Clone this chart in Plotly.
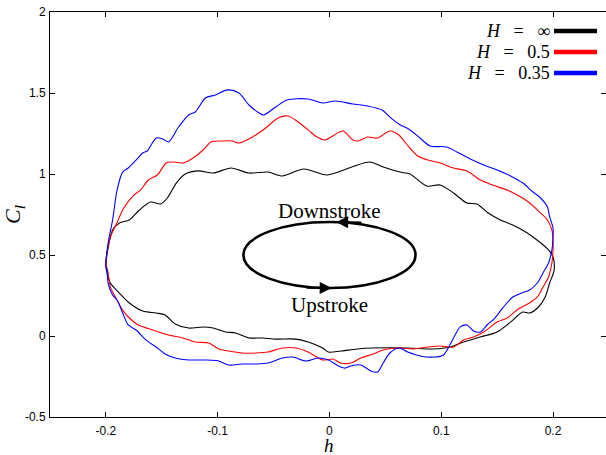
import plotly.graph_objects as go

# ---- data (h, Cl) ----
h_inf = [-0.200, -0.194, -0.188, -0.179, -0.170, -0.160, -0.151, -0.145, -0.137, -0.129, -0.117, -0.104,
         -0.088, -0.072, -0.055, -0.042, -0.023, -0.002, 0.020, 0.036, 0.048, 0.063, 0.072, 0.087, 0.099,
         0.111, 0.123, 0.132, 0.142, 0.153, 0.164, 0.177, 0.188, 0.196, 0.200, 0.201,
         0.197, 0.193, 0.187, 0.179, 0.173, 0.162, 0.150, 0.135, 0.120, 0.108, 0.093, 0.070, 0.039, 0.025,
         0.010, -0.001, -0.006, -0.019, -0.030, -0.048, -0.060, -0.072, -0.084, -0.093, -0.104, -0.113,
         -0.126, -0.138, -0.147, -0.155, -0.167, -0.179, -0.188, -0.196, -0.199, -0.200]
cl_inf = [0.438, 0.654, 0.698, 0.716, 0.778, 0.827, 0.815, 0.852, 0.944, 1.000, 1.019, 1.006,
          1.037, 1.006, 1.012, 0.988, 1.031, 0.994, 1.043, 1.074, 1.043, 1.012, 1.000, 0.926, 0.932,
          0.883, 0.821, 0.815, 0.759, 0.716, 0.685, 0.636, 0.580, 0.531, 0.488, 0.407,
          0.327, 0.241, 0.179, 0.142, 0.148, 0.086, 0.025, -0.006, -0.037, -0.068, -0.080, -0.074, -0.074, -0.080,
          -0.093, -0.099, -0.074, -0.037, -0.019, -0.019, -0.012, -0.012, 0.019, 0.025, 0.049, 0.056,
          0.049, 0.074, 0.130, 0.142, 0.154, 0.204, 0.265, 0.327, 0.389, 0.438]

h_05 = [-0.200, -0.196, -0.191, -0.184, -0.175, -0.169, -0.162, -0.154, -0.146, -0.139, -0.131, -0.122,
        -0.113, -0.106, -0.096, -0.087, -0.081, -0.069, -0.057, -0.046, -0.037, -0.028, -0.019, -0.011,
        -0.004, 0.012, 0.021, 0.026, 0.034, 0.043, 0.054, 0.062, 0.071, 0.079, 0.088, 0.099, 0.111, 0.123,
        0.135, 0.146, 0.159, 0.168, 0.178, 0.188, 0.195, 0.199, 0.200, 0.200,
        0.199, 0.196, 0.191, 0.186, 0.179, 0.169, 0.159, 0.150, 0.138, 0.129, 0.120, 0.111, 0.099, 0.088,
        0.075, 0.063, 0.048, 0.039, 0.028, 0.019, 0.010, 0.003, -0.006, -0.019, -0.030, -0.042, -0.055,
        -0.066, -0.078, -0.090, -0.099, -0.108, -0.120, -0.131, -0.144, -0.158, -0.171, -0.179, -0.185,
        -0.191, -0.196, -0.198, -0.200]
cl_05 = [0.457, 0.611, 0.685, 0.790, 0.870, 0.901, 0.963, 0.994, 1.068, 1.074, 1.068, 1.099,
         1.148, 1.198, 1.204, 1.204, 1.191, 1.228, 1.284, 1.346, 1.358, 1.321, 1.272, 1.228,
         1.210, 1.265, 1.210, 1.204, 1.228, 1.222, 1.265, 1.241, 1.167, 1.111, 1.086, 1.068, 1.037, 1.019,
         0.963, 0.932, 0.901, 0.870, 0.827, 0.765, 0.716, 0.654, 0.593, 0.531,
         0.451, 0.364, 0.302, 0.241, 0.204, 0.167, 0.111, 0.086, 0.025, -0.006, -0.025, -0.068, -0.062, -0.068,
         -0.080, -0.074, -0.086, -0.111, -0.136, -0.167, -0.167, -0.142, -0.148, -0.099, -0.074, -0.074, -0.099,
         -0.105, -0.105, -0.093, -0.080, -0.043, -0.037, -0.012, 0.006, 0.037, 0.068, 0.111, 0.160,
         0.235, 0.302, 0.389, 0.457]

h_035 = [-0.200, -0.198, -0.194, -0.190, -0.185, -0.180, -0.173, -0.167, -0.163, -0.155, -0.149, -0.144,
         -0.135, -0.126, -0.120, -0.111, -0.102, -0.091, -0.081, -0.072, -0.063, -0.059, -0.048, -0.038,
         -0.019, -0.006, 0.005, 0.021, 0.034, 0.047, 0.054, 0.062, 0.072, 0.081, 0.090, 0.105, 0.114, 0.126,
         0.138, 0.150, 0.162, 0.173, 0.182, 0.188, 0.195, 0.197, 0.200, 0.200,
         0.199, 0.196, 0.191, 0.186, 0.179, 0.172, 0.164, 0.155, 0.148, 0.141, 0.135, 0.129, 0.123, 0.117,
         0.111, 0.102, 0.093, 0.081, 0.070, 0.062, 0.054, 0.048, 0.043, 0.037, 0.028, 0.019, 0.014, 0.008,
         -0.001, -0.010, -0.021, -0.033, -0.042, -0.055, -0.066, -0.078, -0.090, -0.099, -0.111, -0.126,
         -0.138, -0.147, -0.155, -0.164, -0.173, -0.180, -0.185, -0.190, -0.194, -0.198, -0.199, -0.200]
cl_035 = [0.426, 0.574, 0.716, 0.901, 1.012, 1.037, 1.086, 1.130, 1.142, 1.222, 1.216, 1.198,
          1.290, 1.364, 1.383, 1.469, 1.488, 1.519, 1.500, 1.426, 1.377, 1.364, 1.414, 1.457,
          1.463, 1.438, 1.451, 1.432, 1.420, 1.395, 1.352, 1.309, 1.272, 1.222, 1.173, 1.167, 1.136, 1.093,
          1.056, 1.025, 0.988, 0.944, 0.889, 0.858, 0.796, 0.735, 0.667, 0.611,
          0.531, 0.451, 0.389, 0.327, 0.284, 0.265, 0.241, 0.173, 0.111, 0.068, 0.025, 0.031, 0.068, 0.056,
          -0.012, -0.117, -0.130, -0.123, -0.099, -0.074, -0.105, -0.167, -0.222, -0.216, -0.179, -0.185, -0.198, -0.185,
          -0.148, -0.136, -0.154, -0.130, -0.136, -0.167, -0.173, -0.173, -0.179, -0.154, -0.148, -0.148,
          -0.136, -0.111, -0.068, -0.025, 0.037, 0.068, 0.142, 0.222, 0.253, 0.327, 0.407, 0.426]

SP = "\u2002\u2005"
series_names = [f"<i>H</i>{SP}={SP}\u221e", f"<i>H</i>{SP}={SP}0.5", f"<i>H</i>{SP}={SP}0.35"]
series_h = [h_inf, h_05, h_035]
series_cl = [cl_inf, cl_05, cl_035]
series_colors = ["#000000", "#ff0000", "#0000ff"]

x_ticks = [-0.2, -0.1, 0, 0.1, 0.2]
y_ticks = [-0.5, 0, 0.5, 1, 1.5, 2]

# schematic loop (centre and half-axes in data units)
loop_cx, loop_cy, loop_rx, loop_ry = 0.0, 0.5, 0.077, 0.204

W, H = 606, 455
ML, MR, MT, MB = 50, 0, 12, 38
PW, PH = W - ML - MR, H - MT - MB


def px_x(px):
    return (px - ML) / PW


def px_y(py):
    return 1 - (py - MT) / PH


fig = go.Figure()
for name, hx, cy, col in zip(series_names, series_h, series_cl, series_colors):
    fig.add_trace(go.Scatter(x=hx, y=cy, mode="lines", name=name, showlegend=False,
                             line=dict(color=col, width=1.1, shape="spline", smoothing=0.8)))

serif = "Liberation Serif"

# schematic ellipse
fig.add_shape(type="circle", xref="x", yref="y",
              x0=loop_cx - loop_rx, x1=loop_cx + loop_rx,
              y0=loop_cy - loop_ry, y1=loop_cy + loop_ry,
              line=dict(color="black", width=2.6))
# arrows on the loop
fig.add_annotation(x=loop_cx + 0.006, y=loop_cy + loop_ry, ax=loop_cx + 0.03, ay=loop_cy + loop_ry * 0.985,
                   xref="x", yref="y", axref="x", ayref="y", text="", showarrow=True,
                   arrowhead=2, arrowsize=1.2, arrowwidth=2, arrowcolor="black")
fig.add_annotation(x=loop_cx + 0.002, y=loop_cy - loop_ry, ax=loop_cx - 0.022, ay=loop_cy - loop_ry * 0.99,
                   xref="x", yref="y", axref="x", ayref="y", text="", showarrow=True,
                   arrowhead=2, arrowsize=1.2, arrowwidth=2, arrowcolor="black")
fig.add_annotation(x=0, y=0.772, xref="x", yref="y", text="Downstroke", showarrow=False,
                   font=dict(family=serif, size=21, color="black"))
fig.add_annotation(x=0, y=0.191, xref="x", yref="y", text="Upstroke", showarrow=False,
                   font=dict(family=serif, size=21, color="black"))

# x-axis title as annotation (positioned like the reference)
fig.add_annotation(x=0, y=px_y(446), xref="x", yref="paper", text="<i>h</i>", showarrow=False,
                   yanchor="middle", borderpad=0, font=dict(family=serif, size=19, color="black"))

# custom legend (text right-aligned, line sample at right)
leg_y = [31, 52, 73]
for name, col, py in zip(series_names, series_colors, leg_y):
    yp = px_y(py)
    fig.add_annotation(x=px_x(551), y=yp, xref="paper", yref="paper", text=name, showarrow=False,
                       xanchor="right", yanchor="middle", borderpad=0,
                       font=dict(family=serif, size=18, color="black"))
    fig.add_shape(type="line", xref="paper", yref="paper", x0=px_x(554), x1=px_x(597), y0=yp, y1=yp,
                  line=dict(color=col, width=4.5))

axis_common = dict(showline=True, linecolor="black", linewidth=1, mirror="ticks", ticks="inside",
                   ticklen=5, tickcolor="black", tickwidth=1, showgrid=False, zeroline=False,
                   tickfont=dict(family="Liberation Sans", size=12, color="black"))

fig.update_layout(
    width=W, height=H,
    margin=dict(l=ML, r=MR, t=MT, b=MB),
    paper_bgcolor="white", plot_bgcolor="white",
    xaxis=dict(range=[-0.25, 0.2474], tickvals=x_ticks, ticktext=["-0.2", "-0.1", "0", "0.1", "0.2"],
               ticklabelstandoff=3, **axis_common),
    yaxis=dict(range=[-0.5, 2], tickvals=y_ticks, ticktext=["-0.5", "0", "0.5", "1", "1.5", "2"],
               ticklabelstandoff=1,
               title=dict(text="<i>C<sub>l</sub></i>", font=dict(family=serif, size=22, color="black"), standoff=6),
               **axis_common),
)

fig.write_html("out.html", config={"displayModeBar": False},
               post_script="document.body.style.margin='0';document.body.style.overflow='hidden';")
